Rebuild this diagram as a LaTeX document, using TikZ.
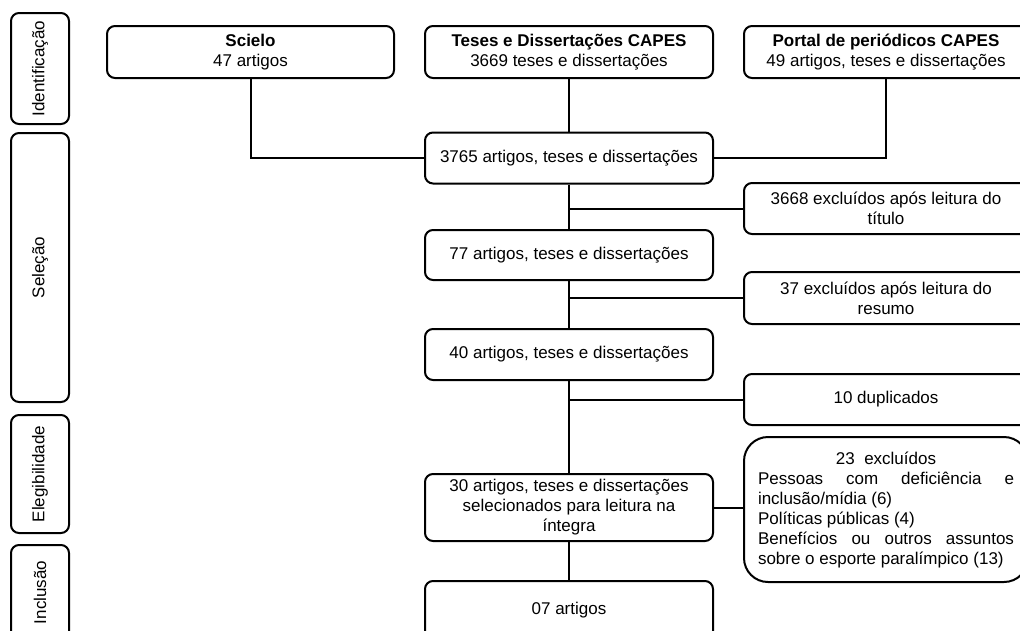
\documentclass[tikz,border=0pt]{standalone}
\usepackage{fontspec}
\setmainfont{Liberation Sans}
\begin{document}
\begin{tikzpicture}[x=1pt,y=-1pt,
    font=\fontsize{17}{20}\selectfont,
    caixa/.style={draw,line width=2pt,rounded corners=8pt,minimum width=288pt,minimum height=51pt,align=center,inner sep=2pt},
    fase/.style={draw,line width=2pt,rounded corners=8pt,rotate=90,minimum height=58pt,inner sep=2pt},
    liga/.style={line width=2pt}]
    \clip (0,0) rectangle (1020,630);

    % Stage boxes on the left
    \node[fase,minimum width=111pt] (ident) at (40,68.5) {Identificação};
    \node[fase,minimum width=269pt] (selec) at (40,267.5) {Seleção};
    \node[fase,minimum width=118pt] (eleg) at (40,474) {Elegibilidade};
    \node[fase,minimum width=95pt] (incl) at (40,592.5) {Inclusão};

    % Sources
    \node[caixa,minimum width=287pt,minimum height=52pt] (scielo) at (250.5,52) {\textbf{Scielo}\\47 artigos};
    \node[caixa,minimum height=52pt] (teses) at (569,52) {\textbf{Teses e Dissertações CAPES}\\3669 teses e dissertações};
    \node[caixa,minimum width=284pt,minimum height=52pt] (portal) at (886,52) {\textbf{Portal de periódicos CAPES}\\49 artigos, teses e dissertações};

    % Main flow
    \node[caixa] (total) at (569,158) {3765 artigos, teses e dissertações};
    \node[caixa,minimum height=50pt] (titulo) at (569,255) {77 artigos, teses e dissertações};
    \node[caixa] (resumo) at (569,354.5) {40 artigos, teses e dissertações};
    \node[caixa,minimum height=67pt] (integra) at (569,507.5) {30 artigos, teses e dissertações\\selecionados para leitura na\\íntegra};
    \node[caixa,minimum height=58pt] (final) at (569,610) {07 artigos};

    % Exclusions
    \node[caixa,minimum width=284pt] (excTitulo) at (886,208.5) {3668 excluídos após leitura do\\título};
    \node[caixa,minimum width=284pt,minimum height=52pt] (excResumo) at (886,298) {37 excluídos após leitura do\\resumo};
    \node[caixa,minimum width=284pt] (duplic) at (886,399.5) {10 duplicados};
    \node[caixa,minimum width=284pt,minimum height=145pt,rounded corners=24pt] (excInt) at (886,509.5)
        {\parbox{256pt}{{\centering 23\ \ excluídos\par}
        Pessoas com deficiência e\linebreak inclusão/mídia (6)\par
        Políticas públicas (4)\par
        Benefícios ou outros assuntos\linebreak sobre o esporte paralímpico (13)}};

    % Connectors
    \draw[liga] (scielo.south) |- (total.west);
    \draw[liga] (teses.south) -- (total.north);
    \draw[liga] (portal.south) |- (total.east);
    \draw[liga] (total.south) -- (titulo.north);
    \draw[liga] (total.south |- excTitulo.west) -- (excTitulo.west);
    \draw[liga] (titulo.south) -- (resumo.north);
    \draw[liga] (titulo.south |- excResumo.west) -- (excResumo.west);
    \draw[liga] (resumo.south) -- (integra.north);
    \draw[liga] (resumo.south |- duplic.west) -- (duplic.west);
    \draw[liga] (integra.east) -- (integra.east -| excInt.west);
    \draw[liga] (integra.south) -- (final.north);
\end{tikzpicture}
\end{document}
